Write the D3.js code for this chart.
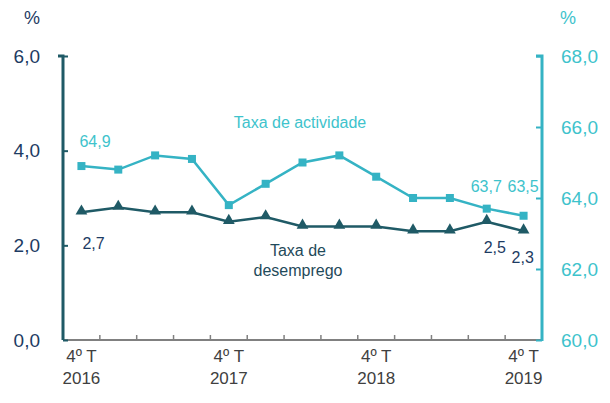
<!DOCTYPE html>
<html>
<head>
<meta charset="utf-8">
<script src="https://cdn.jsdelivr.net/npm/d3@7"></script>
<style>
body { margin: 0; background: #fff; }
text { font-family: "Liberation Sans", Arial, sans-serif; }
</style>
</head>
<body>
<div id="chart"></div>
<script>
// trimestres (4º T 2016 .. 4º T 2019)
var quarters = ['4T16','1T17','2T17','3T17','4T17','1T18','2T18','3T18','4T18','1T19','2T19','3T19','4T19']
var xLabels = {'4T16': ['4º T', '2016'], '4T17': ['4º T', '2017'], '4T18': ['4º T', '2018'], '4T19': ['4º T', '2019']}
var desemprego = [2.7, 2.8, 2.7, 2.7, 2.5, 2.6, 2.4, 2.4, 2.4, 2.3, 2.3, 2.5, 2.3]
var actividade = [64.9, 64.8, 65.2, 65.1, 63.8, 64.4, 65.0, 65.2, 64.6, 64.0, 64.0, 63.7, 63.5]
var leftTicks = [0, 2, 4, 6]
var rightTicks = [60, 62, 64, 66, 68]

var W = 610, H = 403
var mLeft = 63, mRight = 542, mTop = 56, mBottom = 340
var cDark = '#1f5a66', cTeal = '#35b3c4', cNavy = '#1d3b63', cTealTxt = '#3ec3cc'

var svg = d3.select('#chart').append('svg').attr('width', W).attr('height', H)

var x = d3.scaleBand().domain(quarters).range([mLeft, mRight])
var yL = d3.scaleLinear().domain([0, 6]).range([mBottom, mTop])
var yR = d3.scaleLinear().domain([60, 68]).range([mBottom, mTop])
var cx = function(q) { return x(q) + x.bandwidth() / 2 }
var fmt = function(v) { return d3.format('.1f')(v).replace('.', ',') }

// eixo x
var xAxis = svg.append('g').attr('transform', 'translate(0,' + mBottom + ')')
xAxis.append('line').attr('x1', mLeft).attr('x2', mRight).attr('stroke', '#808080').attr('stroke-width', 2)
xAxis.selectAll('.tk').data(quarters.slice(1)).enter().append('line')
    .attr('x1', function(d) { return x(d) }).attr('x2', function(d) { return x(d) })
    .attr('y1', 0).attr('y2', -5).attr('stroke', '#808080').attr('stroke-width', 1.5)
quarters.forEach(function(q) {
    if (!xLabels[q]) return
    var t = svg.append('text').attr('x', cx(q)).attr('text-anchor', 'middle')
        .attr('font-size', 17).attr('fill', '#404040')
    t.append('tspan').attr('x', cx(q)).attr('y', 362).text(xLabels[q][0])
    t.append('tspan').attr('x', cx(q)).attr('y', 384).text(xLabels[q][1])
})

// eixo esquerdo
var gL = svg.append('g').attr('transform', 'translate(' + mLeft + ',0)')
gL.call(d3.axisLeft(yL).tickValues(leftTicks).tickSize(5).tickPadding(8).tickFormat(fmt))
gL.select('.domain').attr('d', 'M-5,' + mTop + 'H0V' + mBottom).attr('stroke', cDark).attr('stroke-width', 3)
gL.selectAll('.tick line').attr('x2', 5).attr('x1', 0).attr('stroke', cDark).attr('stroke-width', 2)
gL.selectAll('.tick text').attr('x', -23).attr('font-size', 19).attr('fill', cNavy)
    .attr('font-family', '"Liberation Sans", Arial, sans-serif')
svg.append('text').attr('x', 32).attr('y', 24).attr('text-anchor', 'middle')
    .attr('font-size', 18).attr('fill', cNavy).text('%')

// eixo direito
var gR = svg.append('g').attr('transform', 'translate(' + mRight + ',0)')
gR.call(d3.axisRight(yR).tickValues(rightTicks).tickSize(5).tickPadding(14).tickFormat(fmt))
gR.select('.domain').attr('d', 'M-6,' + mTop + 'H0V' + (mBottom + 1)).attr('stroke', cTeal).attr('stroke-width', 3)
gR.selectAll('.tick line').attr('x1', 0).attr('x2', -6).attr('stroke', cTeal).attr('stroke-width', 2)
gR.selectAll('.tick text').attr('font-size', 19).attr('fill', cTealTxt)
    .attr('font-family', '"Liberation Sans", Arial, sans-serif')
svg.append('text').attr('x', 568).attr('y', 24).attr('text-anchor', 'middle')
    .attr('font-size', 18).attr('fill', cTealTxt).text('%')

// linhas
var lineA = d3.line().x(function(d, i) { return cx(quarters[i]) }).y(function(d) { return yR(d) })
var lineD = d3.line().x(function(d, i) { return cx(quarters[i]) }).y(function(d) { return yL(d) })

svg.append('path').datum(actividade).attr('d', lineA).attr('fill', 'none')
    .attr('stroke', cTeal).attr('stroke-width', 2.5)
svg.selectAll('.sq').data(actividade).enter().append('rect')
    .attr('x', function(d, i) { return cx(quarters[i]) - 4 }).attr('y', function(d) { return yR(d) - 4 })
    .attr('width', 8).attr('height', 8).attr('fill', cTeal)

svg.append('path').datum(desemprego).attr('d', lineD).attr('fill', 'none')
    .attr('stroke', cDark).attr('stroke-width', 2.5)
svg.selectAll('.tri').data(desemprego).enter().append('path')
    .attr('d', d3.symbol().type(d3.symbolTriangle).size(60))
    .attr('transform', function(d, i) { return 'translate(' + cx(quarters[i]) + ',' + (yL(d) - 1) + ')' })
    .attr('fill', cDark)

// rótulos de dados
var lbl = function(txt, px, py, col) {
    svg.append('text').attr('x', px).attr('y', py).attr('font-size', 16).attr('fill', col).text(txt)
}
lbl(fmt(actividade[0]), cx(quarters[0]) - 2, yR(actividade[0]) - 19, cTealTxt)
lbl(fmt(actividade[11]), cx(quarters[11]) - 16, yR(actividade[11]) - 17, cTealTxt)
lbl(fmt(actividade[12]), cx(quarters[12]) - 16, yR(actividade[12]) - 24, cTealTxt)
lbl(fmt(desemprego[0]), cx(quarters[0]) + 1, yL(desemprego[0]) + 37, cNavy)
lbl(fmt(desemprego[11]), cx(quarters[11]) - 3, yL(desemprego[11]) + 31, cNavy)
lbl(fmt(desemprego[12]), cx(quarters[12]) - 12, yL(desemprego[12]) + 32, cNavy)

// nomes das séries
svg.append('text').attr('x', 300).attr('y', 128).attr('text-anchor', 'middle')
    .attr('font-size', 16).attr('fill', cTealTxt).text('Taxa de actividade')
var nd = svg.append('text').attr('text-anchor', 'middle').attr('font-size', 16).attr('fill', '#1f4a5a')
nd.append('tspan').attr('x', 298).attr('y', 256).text('Taxa de')
nd.append('tspan').attr('x', 298).attr('y', 276).text('desemprego')
</script>
</body>
</html>
